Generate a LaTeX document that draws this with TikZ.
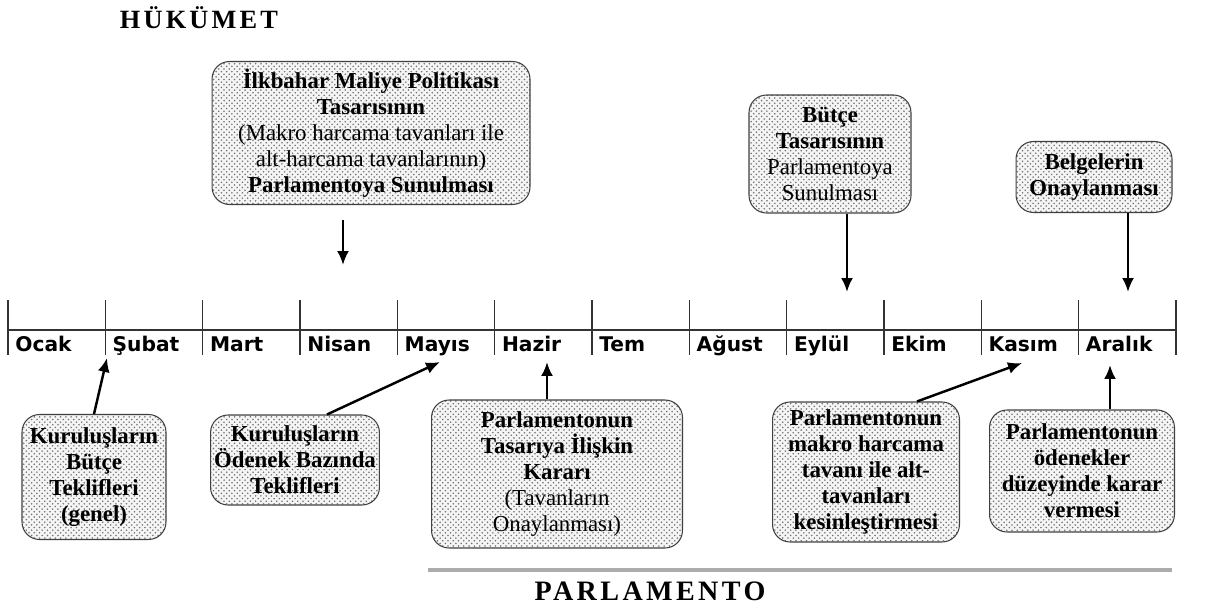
\documentclass[tikz,border=0pt]{standalone}
\usepackage{fontspec}
\setmainfont{Liberation Serif}
\newfontfamily\monthfont{DejaVu Sans}
\newfontfamily\titlefont[LetterSpace=12]{Liberation Serif}
\usepackage{tikz}
\usetikzlibrary{arrows.meta}
\usetikzlibrary{patterns}

\begin{document}
\begin{tikzpicture}[x=0.02cm, y=-0.02cm]
    \tikzstyle{phase} = [draw=black!75, line width=0.6pt, rounded corners=3.5mm, align=center, inner sep=2pt, preaction={fill=gray!8}, pattern=crosshatch dots, pattern color=black!55, font=\fontsize{13}{14.8}\selectfont];
    \tikzstyle{line} = [draw, line width=1.4pt, -{Latex[length=2.8mm,width=2.4mm]}];
    \tikzstyle{month} = [anchor=base west, inner sep=0pt, font=\monthfont\bfseries\fontsize{11.5}{13}\selectfont];
    \tikzstyle{side} = [inner sep=0pt, font=\titlefont\bfseries];
    \useasboundingbox (0,0) rectangle (1220,604);

    % titles
    \node[side, font=\titlefont\bfseries\fontsize{15}{18}\selectfont] (hukumet) at (199,18) {HÜKÜMET};
    \node[side, font=\titlefont\bfseries\fontsize{16}{19}\selectfont] (parlamento) at (650,591) {PARLAMENTO};
    \draw[line width=2pt, gray!65] (428,570) -- (1172,570);

    % time line
    \draw[line width=0.8pt, black!80] (8,330) -- (1176,330);
    \foreach \i in {0,...,12}
        \draw[line width=0.8pt, black!80] (8+97.33*\i,300) -- (8+97.33*\i,355);
    \foreach \m [count=\i] in {Ocak,Şubat,Mart,Nisan,Mayıs,Hazir,Tem,Ağust,Eylül,Ekim,Kasım,Aralık}
        \node[month] (m\i) at (15+97.33*\i-97.33,352) {\m};

    % government
    \node[phase, minimum width=6.36cm, minimum height=2.86cm] (ilkbahar) at (371,133) {\textbf{İlkbahar Maliye Politikası}\\\textbf{Tasarısının}\\(Makro harcama tavanları ile\\alt-harcama tavanlarının)\\\textbf{Parlamentoya Sunulması}};
    \node[phase, minimum width=3.24cm, minimum height=2.36cm] (butce) at (830,154) {\textbf{Bütçe}\\\textbf{Tasarısının}\\Parlamentoya\\Sunulması};
    \node[phase, minimum width=3.12cm, minimum height=1.42cm] (belge) at (1094,177) {\textbf{Belgelerin}\\\textbf{Onaylanması}};

    % institutions and parliament
    \node[phase, minimum width=2.88cm, minimum height=2.5cm, font=\bfseries\fontsize{13}{14.8}\selectfont] (kurulus) at (94,477) {Kuruluşların\\Bütçe\\Teklifleri\\(genel)};
    \node[phase, minimum width=3.3cm, minimum height=1.8cm, font=\bfseries\fontsize{13}{14.8}\selectfont] (odenek) at (295,460) {Kuruluşların\\Ödenek Bazında\\Teklifleri};
    \node[phase, minimum width=5.02cm, minimum height=2.96cm] (karar) at (557,474) {\textbf{Parlamentonun}\\\textbf{Tasarıya İlişkin}\\\textbf{Kararı}\\(Tavanların\\Onaylanması)};
    \node[phase, minimum width=3.74cm, minimum height=2.8cm, font=\bfseries\fontsize{13}{14.8}\selectfont] (kesin) at (866,472) {Parlamentonun\\makro harcama\\tavanı ile alt-\\tavanları\\kesinleştirmesi};
    \node[phase, minimum width=3.7cm, minimum height=2.44cm, font=\bfseries\fontsize{13}{14.8}\selectfont] (verme) at (1082,471) {Parlamentonun\\ödenekler\\düzeyinde karar\\vermesi};

    \coordinate (mayisB) at (343,265);
    \coordinate (eylulB) at (847,292);
    \coordinate (aralikB) at (1128,292);
    \coordinate (subatT) at (107,358);
    \coordinate (mayisT) at (440,362);
    \coordinate (hazirT) at (547,362);
    \coordinate (kasimT) at (1022,363);
    \coordinate (aralikT) at (1110,365);

    \path[line, shorten <=0.3cm] (ilkbahar.south -| mayisB) -- (mayisB);
    \path[line] (butce.south -| eylulB) -- (eylulB);
    \path[line] (belge.south -| aralikB) -- (aralikB);
    \path[line] (kurulus.north) -- (subatT);
    \path[line] ([xshift=0.64cm]odenek.north) -- (mayisT);
    \path[line] (karar.north -| hazirT) -- (hazirT);
    \path[line] ([xshift=1.02cm]kesin.north) -- (kasimT);
    \path[line] (verme.north -| aralikT) -- (aralikT);
\end{tikzpicture}
\end{document}
